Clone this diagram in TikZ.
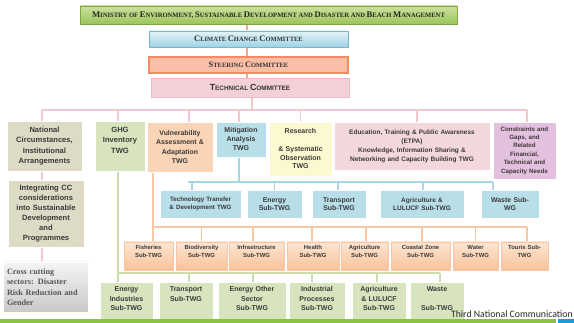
\documentclass[tikz,border=0pt]{standalone}
\usepackage{fontspec}
\setmainfont{Liberation Serif}
\setsansfont{Liberation Sans}
\newfontfamily\carl{Carlito}
\usetikzlibrary{backgrounds,shadows}
\definecolor{txt}{HTML}{3A3A3A}
\definecolor{minT}{HTML}{CBE19E}
\definecolor{minB}{HTML}{9CC45A}
\definecolor{minD}{HTML}{7EA640}
\definecolor{cccT}{HTML}{E3F3F8}
\definecolor{cccB}{HTML}{9FD3E3}
\definecolor{cccD}{HTML}{7DB5C8}
\definecolor{stF}{HTML}{F9BEA6}
\definecolor{stD}{HTML}{F38A62}
\definecolor{tcF}{HTML}{F3D0D7}
\definecolor{tcD}{HTML}{EDBCC6}
\definecolor{natF}{HTML}{DDDAC5}
\definecolor{ghgF}{HTML}{D8E4BD}
\definecolor{vulF}{HTML}{FAD4B6}
\definecolor{mitF}{HTML}{B8DEE8}
\definecolor{resF}{HTML}{FCF9D0}
\definecolor{eduF}{HTML}{F3D8DB}
\definecolor{conF}{HTML}{E4C0DF}
\definecolor{orT}{HTML}{FDE6D3}
\definecolor{orB}{HTML}{F9C298}
\definecolor{orD}{HTML}{F6C7A6}
\definecolor{crT}{HTML}{F4F4F4}
\definecolor{crB}{HTML}{C9C9C9}
\definecolor{crTxt}{HTML}{555555}
\definecolor{spineC}{HTML}{F4A68A}
\definecolor{pinkC}{HTML}{F5C8D0}
\definecolor{blueC}{HTML}{A6D6E5}
\definecolor{orC}{HTML}{F8C8A4}
\definecolor{grC}{HTML}{CCDDAB}
\definecolor{barG}{HTML}{8CC23F}
\definecolor{barB}{HTML}{1E9AD6}
\newcommand\fs[2]{\fontsize{#1}{#2}\selectfont}
\def\bcsize{7.8}
\newcommand\bcap[1]{{\fontsize{\bcsize}{9}\selectfont #1}}
\begin{document}
\begin{tikzpicture}[x=1pt,y=-1pt,
  box/.style={rectangle, inner sep=0pt, align=center, text=txt},
  flat/.style={box, draw=white, line width=0.3pt},
  bluesub/.style={flat, fill=mitF, minimum height=28, font=\sffamily\bfseries\fs{6.9}{8.4}},
  orbox/.style={box, draw=orD, line width=0.3pt, top color=orT, bottom color=orB,
     drop shadow={shadow xshift=0.8pt, shadow yshift=-1pt, opacity=0.3},
     text height=8, text depth=20, font=\sffamily\bfseries\fs{5.9}{7.6}},
  grbox/.style={flat, fill=ghgF, text height=10, text depth=28, font=\sffamily\bfseries\fs{7}{9.4}},
  spine/.style={draw=spineC, line width=1.2pt},
  pinkl/.style={draw=pinkC, line width=1.2pt},
  bluel/.style={draw=blueC, line width=1.2pt},
  orl/.style={draw=orC, line width=1.2pt},
  grl/.style={draw=grC, line width=1.2pt}]
\useasboundingbox (0,0) rectangle (574,323);

% top chain
\node[box, top color=minT, bottom color=minB, draw=minD, line width=0.5pt,
  drop shadow={shadow xshift=0.8pt, shadow yshift=-1pt, opacity=0.35},
  minimum width=377, minimum height=18, font=\bfseries\fs{6.6}{7}\def\bcsize{8.6}, text=black!85] (min) at (268.5,15)
  {\bcap{M}INISTRY OF \bcap{E}NVIRONMENT, \bcap{S}USTAINABLE \bcap{D}EVELOPMENT AND \bcap{D}ISASTER AND \bcap{B}EACH \bcap{M}ANAGEMENT};
\node[box, top color=cccT, bottom color=cccB, draw=cccD, line width=0.5pt,
  minimum width=199, minimum height=16, font=\bfseries\fs{6.5}{7}\def\bcsize{8.5}, text=black!80] (ccc) at (248.5,39)
  {\bcap{C}LIMATE \bcap{C}HANGE \bcap{C}OMMITTEE};
\node[box, fill=stF, draw=stD, line width=1.2pt,
  minimum width=199, minimum height=16, font=\bfseries\fs{6.5}{7}\def\bcsize{8.4}, text=black!80] (steer) at (248.5,65)
  {\bcap{S}TEERING \bcap{C}OMMITTEE};
\node[box, fill=tcF, draw=tcD, line width=0.6pt,
  minimum width=198, minimum height=19, font=\sffamily\bfseries\fs{6.4}{7}\def\bcsize{8.9}, text=black!80] (tech) at (250,87.5)
  {\bcap{T}ECHNICAL \bcap{C}OMMITTEE};

% first row
\node[flat, fill=natF, minimum width=75, minimum height=50, text width=73, font=\sffamily\bfseries\fs{7.6}{10.3}] (nat) at (44.5,146)
  {National\\Circumstances,\\Institutional\\Arrangements};
\node[flat, fill=ghgF, minimum width=50, text width=48, text height=11.5, text depth=38.5, font=\sffamily\bfseries\fs{7.6}{10.3}] (ghg) at (120,146)
  {GHG\\Inventory\\TWG};
\node[flat, fill=vulF, minimum width=66, minimum height=50, text width=64, font=\sffamily\bfseries\fs{6.9}{9.2}] (vul) at (180,147)
  {Vulnerability\\Assessment \&\\Adaptation\\TWG};
\node[flat, fill=mitF, minimum width=50, minimum height=35, text width=48, font=\sffamily\bfseries\fs{7}{9}] (mit) at (241,139.5)
  {Mitigation\\Analysis\\TWG};
\node[flat, fill=resF, minimum width=63, minimum height=54, text width=61, font=\sffamily\bfseries\fs{7}{8.8}] (res) at (300.5,149)
  {Research\\[8.6pt]\& Systematic\\Observation\\TWG};
\node[flat, fill=eduF, minimum width=156, minimum height=48, text width=154, font=\sffamily\bfseries\fs{6.5}{9}] (edu) at (412,146)
  {Education, Training \& Public Awareness\\(ETPA)\\Knowledge, Information Sharing \&\\Networking and Capacity Building TWG};
\node[flat, fill=conF, minimum width=63, minimum height=57, text width=61, font=\sffamily\bfseries\fs{6.2}{8.4}] (con) at (524.5,150.5)
  {Constraints and\\Gaps, and\\Related\\Financial,\\Technical and\\Capacity Needs};

% left column
\node[flat, fill=natF, minimum width=76, minimum height=67, text width=74, font=\sffamily\bfseries\fs{7.6}{10}] (integ) at (46,213.5)
  {Integrating CC\\considerations\\into Sustainable\\Development\\and\\Programmes};
\node[box, top color=crT, bottom color=crB, draw=white, line width=0.4pt,
  drop shadow={shadow xshift=0.8pt, shadow yshift=-1pt, opacity=0.35},
  minimum width=85, minimum height=50, text width=77, align=left, text=crTxt,
  font=\bfseries\fs{8.2}{10.5}] (cross) at (45.5,287)
  {Cross cutting\\sectors: Disaster\\Risk Reduction and\\Gender};

% mitigation sub-TWGs
\node[bluesub, minimum width=81, text width=79, font=\sffamily\bfseries\fs{6.2}{8.2}] (tt) at (200.5,204) {Technology Transfer\\\& Development TWG};
\node[bluesub, minimum width=55, text width=53] (en) at (274.5,204) {Energy\\Sub-TWG};
\node[bluesub, minimum width=54, text width=52] (tr) at (339,204) {Transport\\Sub-TWG};
\node[bluesub, minimum width=84, text width=82, font=\sffamily\bfseries\fs{6.5}{8.4}] (ag) at (422,204) {Agriculture \&\\LULUCF Sub-TWG};
\node[bluesub, minimum width=58, text width=56] (ws) at (510,204) {Waste Sub-\\WG};

% vulnerability sub-TWGs
\node[orbox, minimum width=49, text width=47] (fish) at (148.5,256) {Fisheries\\Sub-TWG};
\node[orbox, minimum width=51, text width=49] (bio) at (201.5,256) {Biodiversity\\Sub-TWG};
\node[orbox, minimum width=55, text width=53] (inf) at (256.5,256) {Infrastructure\\Sub-TWG};
\node[orbox, minimum width=52, text width=50] (hea) at (313,256) {Health\\Sub-TWG};
\node[orbox, minimum width=47, text width=45] (agr) at (364.5,256) {Agriculture\\Sub-TWG};
\node[orbox, minimum width=59, text width=57] (coa) at (420.5,256) {Coastal Zone\\Sub-TWG};
\node[orbox, minimum width=45, text width=43] (wat) at (475.5,256) {Water\\Sub-TWG};
\node[orbox, minimum width=47, text width=45] (tou) at (524.5,256) {Touris Sub-\\TWG};

% GHG sub-TWGs
\node[grbox, minimum width=53, text width=51] (ei) at (126.5,301) {Energy\\Industries\\Sub-TWG};
\node[grbox, minimum width=54, text width=52] (gt) at (186,301) {Transport\\Sub-TWG};
\node[grbox, minimum width=68, text width=66] (eo) at (252,301) {Energy Other\\Sector\\Sub-TWG};
\node[grbox, minimum width=56, text width=54] (ip) at (317,301) {Industrial\\Processes\\Sub-TWG};
\node[grbox, minimum width=54, text width=52] (al) at (379,301) {Agriculture\\\& LULUCF\\Sub-TWG};
\node[grbox, minimum width=54, text width=52] (gw) at (437,301) {Waste\\[9.4pt]Sub-TWG};

% bottom bar
\fill[barG] (0,319) rectangle (556,323);
\fill[barB] (558,319) rectangle (574,323);
\node[inner sep=0pt, anchor=base east, font=\carl\fs{9.8}{10}, text=black!85] (tnc) at (573,317.5) {Third National Communication};

\begin{pgfonlayer}{background}
  \coordinate (busL) at (42,110);
  \coordinate (busR) at (527,110);
  \coordinate (bbL) at (188,182);
  \coordinate (bbR) at (493,182);
  \coordinate (obL) at (153,227);
  \coordinate (obR) at (527,227);
  \coordinate (gbL) at (118,273);
  \coordinate (gbR) at (440,273);
  % spine
  \draw[spine] ([xshift=-21.5]min.south) -- ([xshift=-21.5]min.south |- tech.north);
  % technical committee bus
  \draw[pinkl] ([xshift=2]tech.south) -- ([xshift=2]tech.south |- busL);
  \draw[pinkl] (busL) -- (busR);
  \draw[pinkl] ([xshift=-2.5]nat.north |- busL) -- ([xshift=-2.5]nat.north);
  \draw[pinkl] ([xshift=-2]ghg.north |- busL) -- ([xshift=-2]ghg.north);
  \draw[pinkl] ([xshift=9]vul.north |- busL) -- ([xshift=9]vul.north);
  \draw[pinkl] ([xshift=-2]mit.north |- busL) -- ([xshift=-2]mit.north);
  \draw[pinkl] (res.north |- busL) -- (res.north);
  \draw[pinkl] ([xshift=5]edu.north |- busL) -- ([xshift=5]edu.north);
  \draw[pinkl] ([xshift=2.5]con.north |- busL) -- ([xshift=2.5]con.north);
  \draw[pinkl] ([xshift=-2.5]nat.south) -- ([xshift=-2.5]nat.south |- integ.north);
  \draw[pinkl] ([xshift=-4]integ.south) -- ([xshift=-4]integ.south |- cross.north);
  % mitigation bus
  \draw[bluel] ([xshift=-2]mit.south) -- ([xshift=-2]mit.south |- bbL);
  \draw[bluel] (bbL) -- (bbR);
  \draw[bluel] ([xshift=-8.5]tt.north |- bbL) -- ([xshift=-8.5]tt.north);
  \draw[bluel] (en.north |- bbL) -- (en.north);
  \draw[bluel] ([xshift=-1]tr.north |- bbL) -- ([xshift=-1]tr.north);
  \draw[bluel] ([xshift=1]ag.north |- bbL) -- ([xshift=1]ag.north);
  \draw[bluel] ([xshift=-17]ws.north |- bbL) -- ([xshift=-17]ws.north);
  % vulnerability bus
  \draw[orl] ([xshift=-27]vul.south) -- ([xshift=-27]vul.south |- fish.north);
  \draw[orl] (obL) -- (obR);
  \draw[orl] (bio.north |- obL) -- (bio.north);
  \draw[orl] ([xshift=-3.5]inf.north |- obL) -- ([xshift=-3.5]inf.north);
  \draw[orl] ([xshift=-1]hea.north |- obL) -- ([xshift=-1]hea.north);
  \draw[orl] ([xshift=1.5]agr.north |- obL) -- ([xshift=1.5]agr.north);
  \draw[orl] ([xshift=1.5]coa.north |- obL) -- ([xshift=1.5]coa.north);
  \draw[orl] (wat.north |- obL) -- (wat.north);
  \draw[orl] ([xshift=2.5]tou.north |- obL) -- ([xshift=2.5]tou.north);
  % GHG bus
  \draw[grl] ([xshift=-2]ghg.south) -- ([xshift=-2]ghg.south |- ei.north);
  \draw[grl] (gbL) -- (gbR);
  \draw[grl] ([xshift=3]gt.north |- gbL) -- ([xshift=3]gt.north);
  \draw[grl] ([xshift=1]eo.north |- gbL) -- ([xshift=1]eo.north);
  \draw[grl] ([xshift=-5]ip.north |- gbL) -- ([xshift=-5]ip.north);
  \draw[grl] ([xshift=-2]al.north |- gbL) -- ([xshift=-2]al.north);
  \draw[grl] ([xshift=3]gw.north |- gbL) -- ([xshift=3]gw.north);
\end{pgfonlayer}
\end{tikzpicture}
\end{document}
